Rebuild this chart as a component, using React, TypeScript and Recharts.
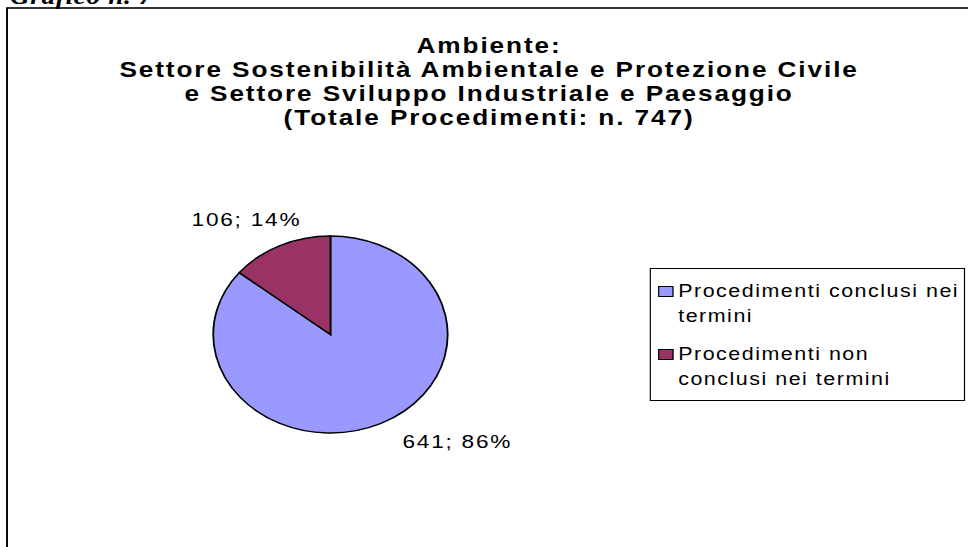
import React from 'react';
import { PieChart, Pie, Cell, Legend } from 'recharts';

const categories = ['Procedimenti conclusi nei termini', 'Procedimenti non conclusi nei termini'];
const values = [641, 106];
const colors = ['#9999FF', '#993366'];
const titleLines = [
  'Ambiente:',
  'Settore Sostenibilità Ambientale e Protezione Civile',
  'e Settore Sviluppo Industriale e Paesaggio',
  '(Totale Procedimenti: n. 747)',
];
const captionText = 'Grafico n. 7';

const data = categories.map((name, i) => ({ name, value: values[i] }));

const SX = 1.19;
const W = 814;
const H = 547;
const FONT = '"Liberation Sans", Arial, sans-serif';

const RAD = Math.PI / 180;

const renderLabel = (props: any) => {
  const { cx, cy, midAngle, outerRadius, value, percent } = props;
  const c = Math.cos(-midAngle * RAD);
  const s = Math.sin(-midAngle * RAD);
  const x = cx + outerRadius * c + 18;
  const y = cy + outerRadius * s + (s < 0 ? -20 : 25);
  return (
    <text
      x={x}
      y={y}
      textAnchor={c < 0 ? 'end' : 'start'}
      fontFamily={FONT}
      fontSize={19}
      fill="#000"
      style={{ letterSpacing: '1.5px' }}
    >
      {`${value}; ${Math.round(percent * 100)}%`}
    </text>
  );
};

const renderLegend = (props: any) => {
  const payload = props.payload || [];
  return (
    <div style={{ position: 'relative', width: '100%', height: '100%' }}>
      {payload.map((entry: any, i: number) => (
        <div
          key={i}
          style={{
            position: 'absolute',
            left: 0,
            top: 10.3 + i * 63,
            width: '100%',
          }}
        >
          <div
            style={{
              position: 'absolute',
              left: 6,
              top: 6.5,
              width: 13,
              height: 11,
              background: entry.color,
              border: '1px solid #000',
              boxSizing: 'border-box',
            }}
          />
          <div
            style={{
              position: 'absolute',
              left: 23.4,
              top: 0,
              width: 239,
              fontFamily: FONT,
              fontSize: 18,
              lineHeight: '25px',
              letterSpacing: '1.28px',
              color: '#000',
              textAlign: 'left',
              whiteSpace: 'normal',
            }}
          >
            {entry.value}
          </div>
        </div>
      ))}
    </div>
  );
};

export default function App() {
  return (
    <div
      style={{
        position: 'absolute',
        left: 0,
        top: 0,
        width: 968,
        height: 547,
        overflow: 'hidden',
        background: '#fff',
      }}
    >
      <div
        style={{
          position: 'absolute',
          left: 0,
          top: 0,
          width: W,
          height: H,
          transform: `scaleX(${SX})`,
          transformOrigin: '0 0',
        }}
      >
        <svg
          width={W}
          height={H}
          style={{ position: 'absolute', left: 0, top: 0 }}
        >
          <rect x={0} y={0} width={W} height={H} fill="#fff" />
          <text
            x={8.4}
            y={4}
            fontFamily='"Liberation Serif", "Times New Roman", serif'
            fontStyle="italic"
            fontWeight="bold"
            fontSize={23}
            fill="#000"
            style={{ letterSpacing: '0.5px' }}
          >
            {captionText}
          </text>
          <rect x={5.9} y={8} width={W + 20} height={H + 20} fill="none" stroke="#000" strokeWidth={1.6} />
          {titleLines.map((t, i) => (
            <text
              key={i}
              x={411}
              y={53 + i * 24}
              textAnchor="middle"
              fontFamily={FONT}
              fontWeight="bold"
              fontSize={22}
              fill="#000"
              style={{ letterSpacing: '1.6px' }}
            >
              {t}
            </text>
          ))}
        </svg>
        <div style={{ position: 'absolute', left: 0, top: 0 }}>
          <PieChart width={W} height={H} margin={{ top: 0, right: 0, bottom: 0, left: 0 }}>
            <Pie
              data={data}
              dataKey="value"
              nameKey="name"
              cx={277.7}
              cy={334.5}
              outerRadius={98.5}
              startAngle={90}
              endAngle={-270}
              stroke="#000"
              strokeWidth={1.5}
              label={renderLabel}
              labelLine={false}
              isAnimationActive={false}
            >
              {data.map((d, i) => (
                <Cell key={d.name} fill={colors[i]} />
              ))}
            </Pie>
            <Legend
              layout="vertical"
              align="right"
              verticalAlign="top"
              content={renderLegend}
              wrapperStyle={{
                left: 545.5,
                top: 268,
                width: 265.5,
                height: 133,
                border: '1px solid #000',
                boxSizing: 'border-box',
                background: '#fff',
              }}
            />
          </PieChart>
        </div>
      </div>
    </div>
  );
}
